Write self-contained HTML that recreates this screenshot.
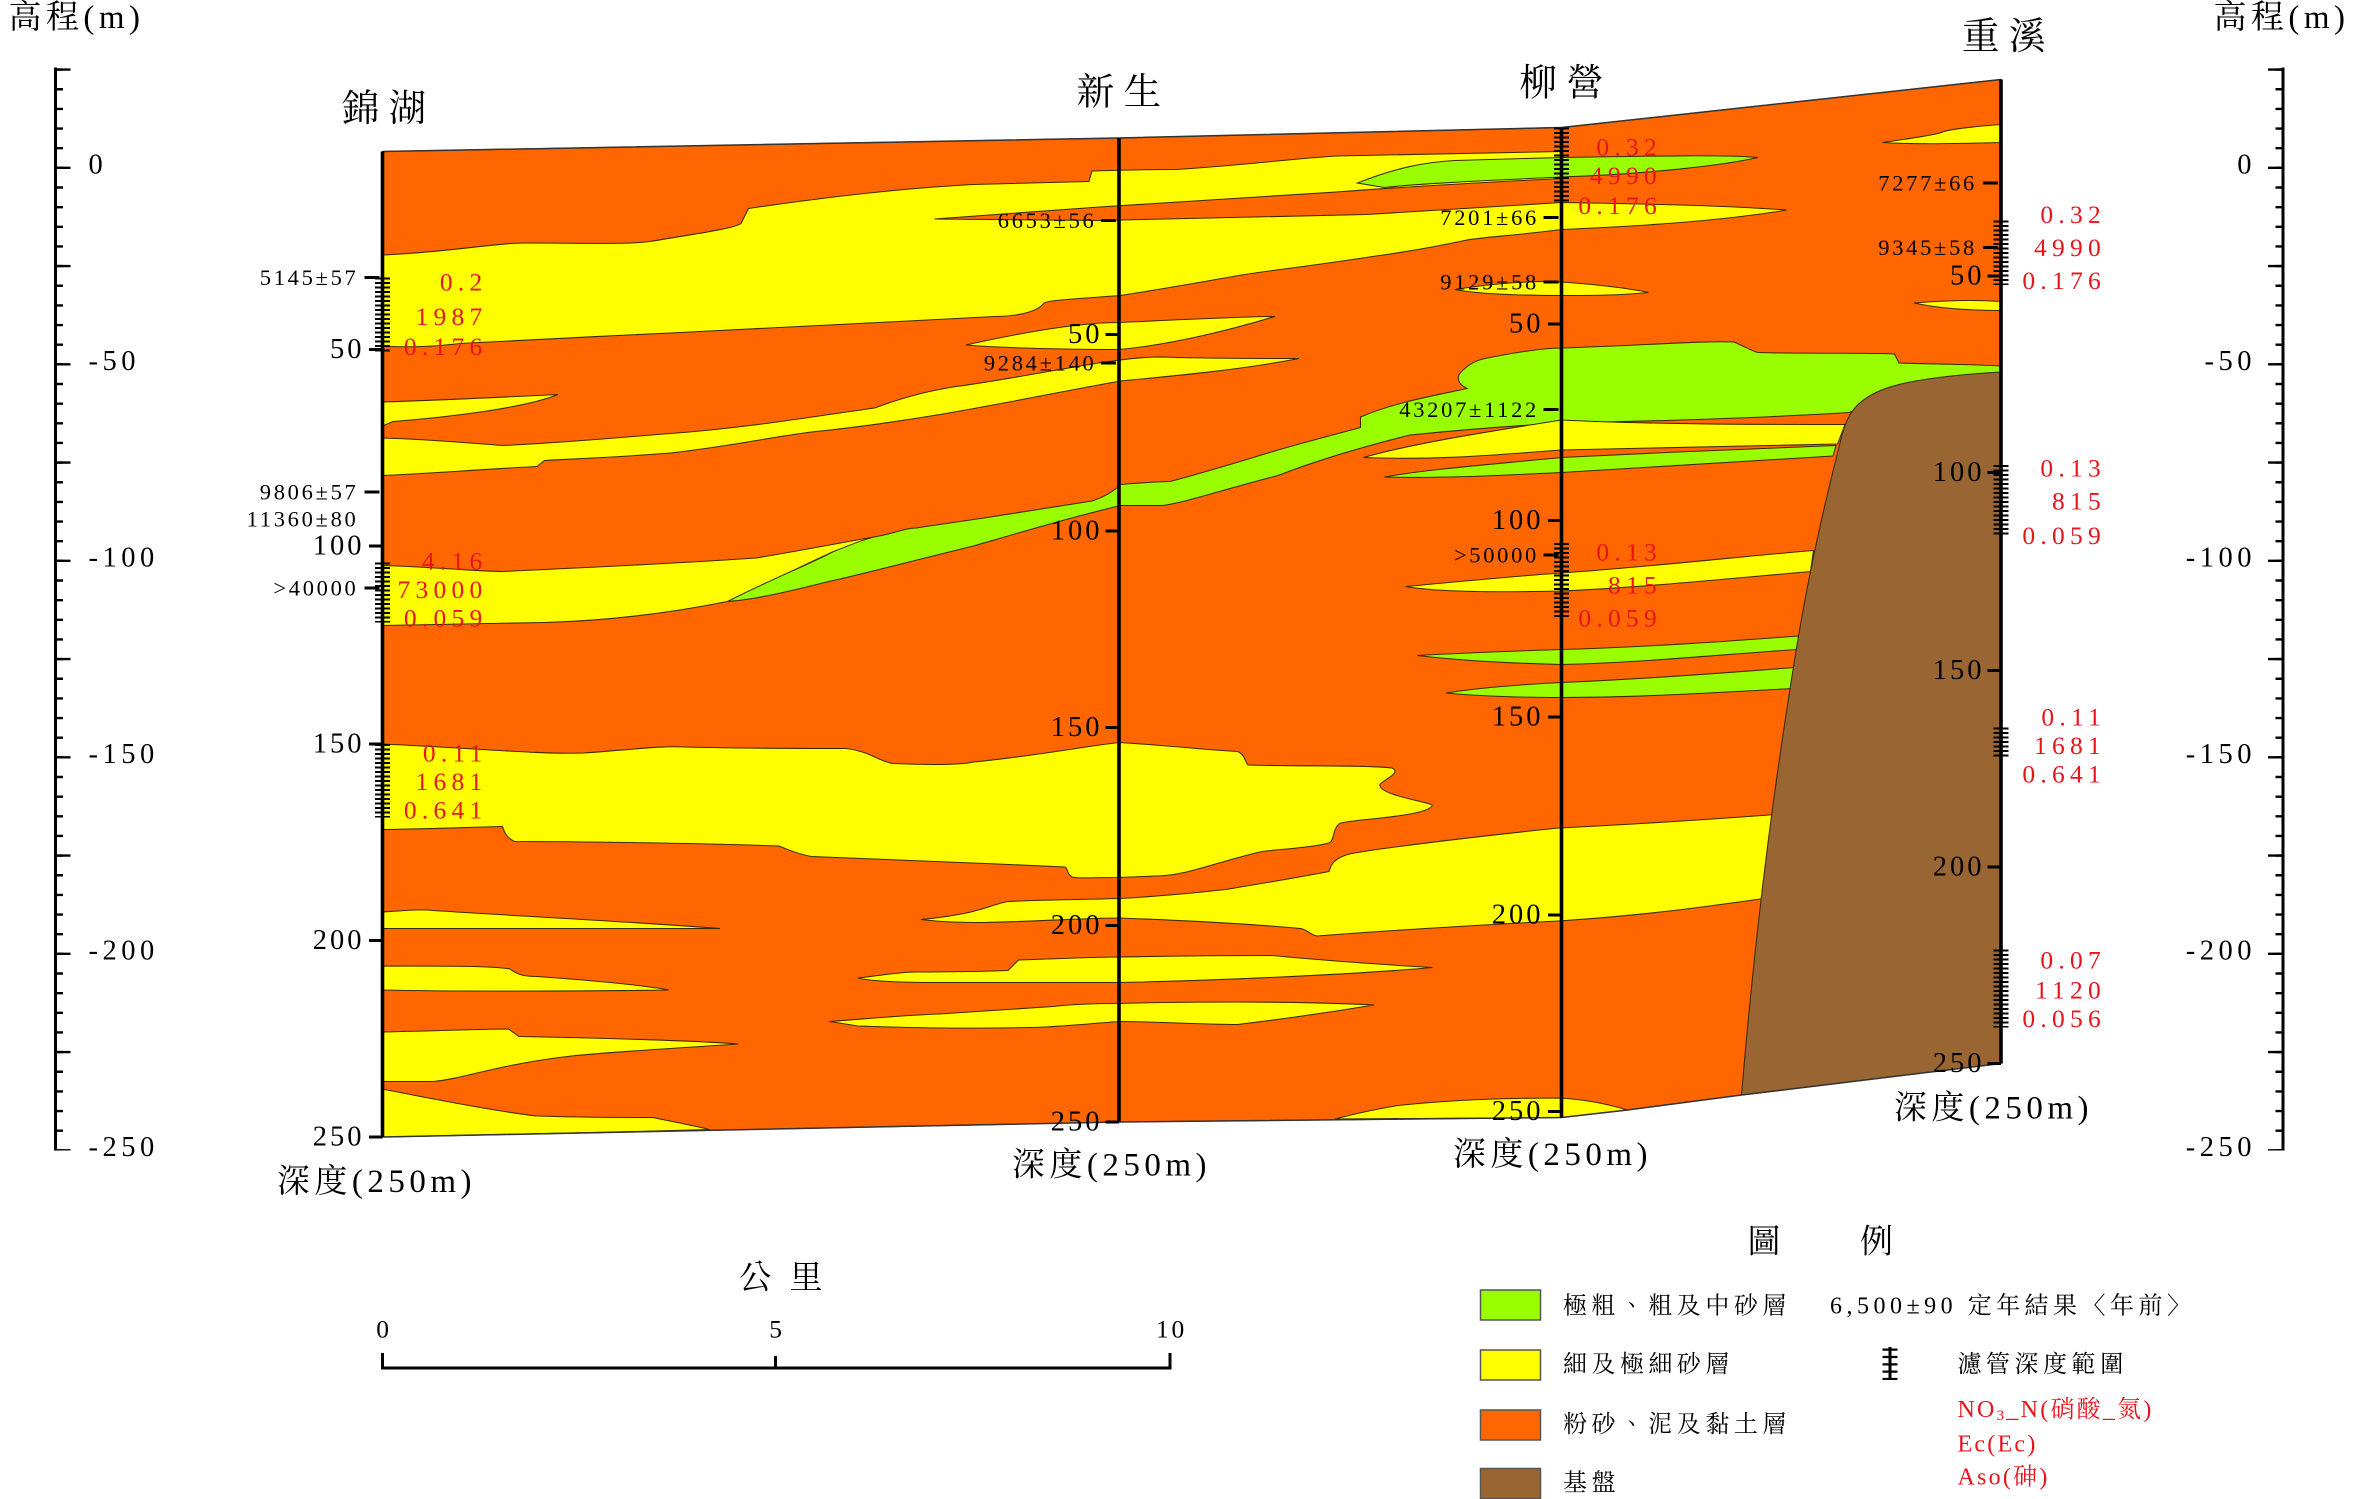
<!DOCTYPE html>
<html><head><meta charset="utf-8"><style>
html,body{margin:0;padding:0;background:#fff;}
svg{display:block;}
text{font-family:"Liberation Serif","Noto Serif CJK TC","Noto Sans CJK TC",serif;}
.n{font-size:19px;fill:#000;letter-spacing:2px;}
.a{font-size:15px;fill:#000;letter-spacing:1.8px;}
.r{font-size:17px;fill:#e8141c;letter-spacing:3.5px;}
.c{font-size:22px;fill:#000;font-family:"Noto Serif CJK TC","Noto Sans CJK TC",serif;letter-spacing:3px;}
.s{font-size:25px;fill:#000;font-family:"Noto Serif CJK TC","Noto Sans CJK TC",serif;}
</style></head><body>
<svg width="2353" height="1499" viewBox="0 0 1568.67 999.33" xmlns="http://www.w3.org/2000/svg">
<rect x="0" y="0" width="1568.67" height="999.33" fill="#fff"/>
<g stroke="#3a2a00" stroke-width="0.7">
<path d="M255,101 L746,92 L1041,85 L1334,53 L1334,709 L1161,730 L1085,740 L1041,745 L746,748 L255,758 Z" fill="#ff6600"/>
<path d="M255,170 C300,168 330,162 349,162 C390,162 420,163 433,161 C470,155 490,152 494,149 L499,139 C560,130 610,125 649,123 L726,121 L728,114 C760,113 770,113 784,113 C830,110 860,106 891,104 L1041,101 L1041,119 C980,122 930,125 891,128 L733,138 L623,146 L733,147 C800,146 860,144 911,143 L1041,135 C1100,136 1150,137 1191,140 C1150,147 1090,151 1041,153 C1010,157 990,158 978,160 C950,166 930,169 915,171 C870,178 840,181 824,184 C790,190 760,195 747,197 C720,199 700,200 696,202 C690,210 670,211 663,211 C590,215 500,219 447,222 C400,224 330,228 307,229 C280,232 270,231 255,231 Z" fill="#ffff00"/>
<path d="M905,122 C930,112 950,108 970,107 L1041,105 C1100,104 1150,103 1172,105 C1150,110 1100,116 1041,118 C1000,120 950,122 923,125 Z" fill="#99ff00"/>
<path d="M970,193 C1000,188 1030,187 1041,188 C1070,190 1090,193 1099,195 C1080,197 1060,197 1041,197 C1010,197 985,196 970,193 Z" fill="#ffff00"/>
<path d="M644,230 C680,222 720,215 746,215 C790,213 830,211 850,211 C820,220 780,230 746,233 C710,233 670,232 644,230 Z" fill="#ffff00"/>
<path d="M255,292 C290,293 320,296 335,297 C380,295 420,291 447,289 C500,285 540,278 583,272 C610,262 625,260 635,258 C680,252 720,243 747,240 C760,238 770,238 775,238 C800,239 840,239 866,239 C830,246 790,250 747,254 C680,266 620,280 541,288 C510,292 490,297 447,302 C410,305 380,306 363,307 L358,311 C320,313 280,316 255,317 Z" fill="#ffff00"/>
<path d="M255,268 C290,267 330,265 372,263 C350,272 300,278 262,281 L255,284 Z" fill="#ffff00"/>
<path d="M255,377 C290,378 320,381 335,381 C400,378 460,375 504,372 C540,366 570,360 583,358 L555,368 C520,384 500,395 485,401 C440,410 400,414 363,415 L255,417 Z" fill="#ffff00"/>
<path d="M485,401 C510,388 540,376 555,368 C570,362 580,358 588,357 C600,354 605,352 611,352 C630,349 645,347 658,345 C690,340 715,336 728,334 C740,330 745,325 747,323 C760,322 770,321 780,321 C810,313 835,305 852,300 C880,292 900,287 907,285 L907,278 C930,268 960,263 978,259 C970,255 972,250 974,248 C980,242 985,240 990,239 C1010,235 1030,232 1041,232 C1100,230 1140,227 1156,228 C1165,232 1168,234 1172,235 C1210,236 1250,235 1263,236 L1266,242 C1300,243 1320,243 1334,244 L1334,260 C1290,262 1250,266 1233,275 C1150,280 1080,281 1041,282 C990,285 960,288 940,290 C900,300 870,310 852,317 C810,328 790,335 775,337 L747,337 C710,346 680,355 649,364 C600,376 570,384 551,388 C520,396 500,400 485,401 Z" fill="#99ff00"/>
<path d="M909,305 C940,296 990,288 1041,280 C1100,283 1180,283 1230,283 L1225,296 C1150,298 1090,299 1041,300 C1000,303 960,307 909,305 Z" fill="#ffff00"/>
<path d="M923,318 C950,313 990,310 1041,305 C1100,302 1170,299 1224,297 L1222,304 C1150,308 1090,312 1041,315 C1000,317 960,319 923,318 Z" fill="#99ff00"/>
<path d="M937,391 C970,388 1010,384 1041,382 C1110,377 1170,370 1209,367 L1207,381 C1150,386 1090,392 1041,394 C1000,395 960,395 937,391 Z" fill="#ffff00"/>
<path d="M945,437 C980,435 1010,434 1041,433 C1110,431 1170,426 1199,424 L1198,433 C1140,437 1090,442 1041,443 C1000,442 970,440 945,437 Z" fill="#99ff00"/>
<path d="M964,462 C990,458 1020,456 1041,455 C1110,452 1170,447 1196,445 L1195,459 C1140,462 1090,465 1041,465 C1010,465 985,464 964,462 Z" fill="#99ff00"/>
<path d="M1255,95 C1275,92 1290,90 1295,88 C1300,86 1320,84 1334,83 L1334,95 C1300,96 1270,96 1255,95 Z" fill="#ffff00"/>
<path d="M1276,202 C1300,200 1320,200 1334,201 L1334,207 C1310,207 1290,205 1276,202 Z" fill="#ffff00"/>
<path d="M255,496 C320,499 360,503 389,502 C420,500 440,497 457,498 C500,499 540,499 564,499 C580,501 585,507 595,509 C620,510 640,510 649,508 C690,504 720,498 746,495 C780,497 805,500 825,501 C830,503 830,508 832,510 C870,511 910,510 928,512 C935,515 922,520 920,523 C918,530 955,535 955,537 C950,545 900,546 893,549 C888,553 890,560 886,562 C870,566 850,566 840,568 C810,575 790,584 771,584 L746,585 C725,585 715,586 714,584 C711,582 712,579 710,578 C650,575 580,573 541,571 C530,569 525,566 519,564 C460,562 380,561 343,561 C337,558 336,554 335,551 C300,552 270,553 255,553 Z" fill="#ffff00"/>
<path d="M1184,543 C1130,547 1080,550 1039,552 C1000,556 930,564 901,569 C888,572 887,578 886,581 C860,586 835,590 817,593 C790,596 765,598 746,599 C710,600 690,600 672,601 C660,603 655,609 614,613 C630,615 645,615 656,615 C700,614 725,612 746,612 C800,614 845,617 867,619 C872,620 873,623 878,624 C930,620 1000,616 1039,614 C1100,610 1140,604 1176,599 Z" fill="#ffff00"/>
<path d="M255,608 C270,607 280,606 289,607 C350,611 430,615 480,619 C400,619 300,619 255,619 Z" fill="#ffff00"/>
<path d="M255,644 C300,644 330,644 340,646 C345,650 350,651 358,651 C400,654 430,657 446,660 C380,661 300,661 255,660 Z" fill="#ffff00"/>
<path d="M255,688 C300,687 325,686 339,686 L346,691 C400,692 470,694 492,696 C450,699 410,701 381,704 C330,710 310,719 289,721 L255,721 Z" fill="#ffff00"/>
<path d="M255,726 C300,735 340,742 358,744 C390,745 420,745 435,745 C450,748 465,751 473,753 C400,755 320,757 255,758 Z" fill="#ffff00"/>
<path d="M572,652 C590,650 600,648 610,648 C650,648 670,647 672,647 L679,640 C710,639 730,638 746,638 C800,637 830,637 848,637 C880,640 920,643 955,645 C900,650 800,654 746,655 C700,655 650,655 626,655 C600,655 580,654 572,652 Z" fill="#ffff00"/>
<path d="M553,681 C580,679 600,677 626,676 C660,674 685,672 702,671 C720,669 735,669 746,669 C780,668 800,668 825,668 C860,668 900,669 916,670 C880,676 850,680 825,683 C800,683 770,681 746,681 C720,683 700,685 687,685 C640,686 600,685 572,684 Z" fill="#ffff00"/>
<path d="M890,746 C905,742 920,739 932,737 C970,733 1010,732 1039,732 C1060,733 1075,737 1085,740 L1041,745 Z" fill="#ffff00"/>
<path d="M1334,248 C1300,250 1265,254 1250,262 C1238,268 1232,275 1228,290 C1218,330 1208,370 1198,430 C1185,510 1172,600 1161,730 L1334,709 Z" fill="#996633"/>
</g>
<path d="M255,101 L746,92 L1041,85 L1334,53 M255,758 L746,748 L1041,745 L1085,740 L1161,730 L1334,709" stroke="#333" stroke-width="1" fill="none"/>
<g stroke="#000" stroke-width="2.4">
<line x1="255" y1="101" x2="255" y2="758"/>
<line x1="746" y1="92" x2="746" y2="748"/>
<line x1="1041" y1="85" x2="1041" y2="745"/>
<line x1="1334" y1="53" x2="1334" y2="709"/>
</g>
<g stroke="#000" stroke-width="10" stroke-dasharray="1.3 1.7">
<line x1="255" y1="185" x2="255" y2="235"/>
<line x1="255" y1="375" x2="255" y2="415"/>
<line x1="255" y1="496" x2="255" y2="545"/>
<line x1="1041" y1="85" x2="1041" y2="135"/>
<line x1="1041" y1="362" x2="1041" y2="412"/>
<line x1="1334" y1="147" x2="1334" y2="190"/>
<line x1="1334" y1="310" x2="1334" y2="358"/>
<line x1="1334" y1="485" x2="1334" y2="506"/>
<line x1="1334" y1="633" x2="1334" y2="685"/>
</g>
<g stroke="#000" stroke-width="2">
<path d="M246,233h9M246,364h9M246,496h9M246,627h9M246,758h9"/>
<path d="M737,223h9M737,354h9M737,485h9M737,617h9M737,748h9"/>
<path d="M1032,216h9M1032,347h9M1032,478h9M1032,610h9M1032,741h9"/>
<path d="M1325,184h9M1325,315h9M1325,447h9M1325,578h9M1325,709h9"/>
<path d="M243,185h10M243,328h10M243,392h10M734,147h10M734,242h10M1029,145h10M1029,188h10M1029,273h10M1029,370h10M1322,122h10M1322,165h10"/>
</g>
<g class="n" text-anchor="end" dominant-baseline="central">
<text x="243" y="233">50</text><text x="243" y="364">100</text><text x="243" y="496">150</text><text x="243" y="627">200</text><text x="243" y="758">250</text>
<text x="735" y="223">50</text><text x="735" y="354">100</text><text x="735" y="485">150</text><text x="735" y="617">200</text><text x="735" y="748">250</text>
<text x="1029" y="216">50</text><text x="1029" y="347">100</text><text x="1029" y="478">150</text><text x="1029" y="610">200</text><text x="1029" y="741">250</text>
<text x="1323" y="184">50</text><text x="1323" y="315">100</text><text x="1323" y="447">150</text><text x="1323" y="578">200</text><text x="1323" y="709">250</text>
</g>
<g class="a" text-anchor="end" dominant-baseline="central">
<text x="239" y="185">5145±57</text><text x="239" y="328">9806±57</text><text x="239" y="346">11360±80</text><text x="239" y="392">&gt;40000</text>
<text x="731" y="147">6653±56</text><text x="731" y="242">9284±140</text>
<text x="1026" y="145">7201±66</text><text x="1026" y="188">9129±58</text><text x="1026" y="273">43207±1122</text><text x="1026" y="370">&gt;50000</text>
<text x="1318" y="122">7277±66</text><text x="1318" y="165">9345±58</text>
</g>
<g class="r" text-anchor="end" dominant-baseline="central">
<text x="325" y="188">0.2</text><text x="325" y="211">1987</text><text x="325" y="231">0.176</text>
<text x="325" y="374">4.16</text><text x="325" y="393">73000</text><text x="325" y="412">0.059</text>
<text x="325" y="502">0.11</text><text x="325" y="521">1681</text><text x="325" y="540">0.641</text>
<text x="1108" y="98">0.32</text><text x="1108" y="117">4990</text><text x="1108" y="137">0.176</text>
<text x="1108" y="368">0.13</text><text x="1108" y="390">815</text><text x="1108" y="412">0.059</text>
<text x="1404" y="143">0.32</text><text x="1404" y="165">4990</text><text x="1404" y="187">0.176</text>
<text x="1404" y="312">0.13</text><text x="1404" y="334">815</text><text x="1404" y="357">0.059</text>
<text x="1404" y="478">0.11</text><text x="1404" y="497">1681</text><text x="1404" y="516">0.641</text>
<text x="1404" y="640">0.07</text><text x="1404" y="660">1120</text><text x="1404" y="679">0.056</text>
</g>
<g class="s" text-anchor="middle" dominant-baseline="central">
<text x="256" y="73">錦 湖</text><text x="746" y="62">新 生</text><text x="1041" y="56">柳 營</text><text x="1336" y="25">重 溪</text>
</g>
<g class="c" text-anchor="middle" dominant-baseline="central">
<text x="251" y="788">深度(250m)</text><text x="741" y="777">深度(250m)</text><text x="1035" y="770">深度(250m)</text><text x="1329" y="739">深度(250m)</text>
<text x="51" y="12">高程(m)</text><text x="1521" y="12">高程(m)</text>
</g>
<g stroke="#000">
<line x1="37" y1="45" x2="37" y2="767" stroke-width="2"/>
<line x1="39.5" y1="45.6" x2="39.5" y2="767" stroke-width="5" stroke-dasharray="1.6 11.5"/>
<line x1="42" y1="45.6" x2="42" y2="767" stroke-width="10" stroke-dasharray="1.6 63.9"/>
<line x1="1522" y1="45" x2="1522" y2="767" stroke-width="2"/>
<line x1="1519.5" y1="45.6" x2="1519.5" y2="767" stroke-width="5" stroke-dasharray="1.6 11.5"/>
<line x1="1517" y1="45.6" x2="1517" y2="767" stroke-width="10" stroke-dasharray="1.6 63.9"/>
</g>
<g class="n" dominant-baseline="central" style="letter-spacing:3px">
<text x="59" y="110">0</text><text x="59" y="241">-50</text><text x="59" y="372">-100</text><text x="59" y="503">-150</text><text x="59" y="634">-200</text><text x="59" y="765">-250</text>
</g>
<g class="n" dominant-baseline="central" text-anchor="end" style="letter-spacing:3px">
<text x="1504" y="110">0</text><text x="1504" y="241">-50</text><text x="1504" y="372">-100</text><text x="1504" y="503">-150</text><text x="1504" y="634">-200</text><text x="1504" y="765">-250</text>
</g>
<text class="c" x="522" y="850" text-anchor="middle" dominant-baseline="central">公 里</text>
<g class="a" text-anchor="middle" dominant-baseline="central" style="font-size:17px"><text x="256" y="886">0</text><text x="518" y="886">5</text><text x="781" y="886">10</text></g>
<path d="M255,902 V912 H780 V902 M517,904 V912" stroke="#000" stroke-width="2" fill="none"/>
<text class="c" x="1215" y="826" text-anchor="middle" dominant-baseline="central">圖　　例</text>
<g stroke="#555" stroke-width="1">
<rect x="987" y="860" width="40" height="20" fill="#99ff00"/>
<rect x="987" y="900" width="40" height="20" fill="#ffff00"/>
<rect x="987" y="940" width="40" height="20" fill="#ff6600"/>
<rect x="987" y="979" width="40" height="20" fill="#996633"/>
</g>
<g dominant-baseline="central" style="font-size:16px;letter-spacing:3px;font-family:'Noto Serif CJK TC','Noto Sans CJK TC',serif">
<text x="1042" y="871">極粗、粗及中砂層</text>
<text x="1042" y="910">細及極細砂層</text>
<text x="1042" y="950">粉砂、泥及黏土層</text>
<text x="1042" y="989">基盤</text>
<text x="1220" y="871">6,500±90 定年結果〈年前〉</text>
<text x="1305" y="910">濾管深度範圍</text>
<text x="1305" y="940" fill="#e8141c" style="letter-spacing:1.5px">NO<tspan font-size="10" dy="4">3</tspan><tspan dy="-4">_N(硝酸_氮)</tspan></text>
<text x="1305" y="963" fill="#e8141c" style="letter-spacing:1.5px">Ec(Ec)</text>
<text x="1305" y="985" fill="#e8141c" style="letter-spacing:1.5px">Aso(砷)</text>
</g>
<line x1="1260" y1="898" x2="1260" y2="920" stroke="#000" stroke-width="2"/>
<line x1="1260" y1="899" x2="1260" y2="920" stroke="#000" stroke-width="10" stroke-dasharray="1.5 3.4"/>
</svg>
</body></html>
